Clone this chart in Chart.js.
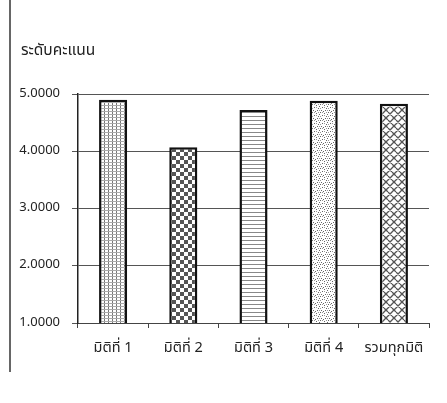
<!DOCTYPE html>
<html>
<head>
<meta charset="utf-8">
<script src="https://cdn.jsdelivr.net/npm/chart.js@4/dist/chart.umd.min.js"></script>
<style>
  html, body { margin: 0; padding: 0; background: #fff; }
  #wrap { position: relative; width: 447px; height: 403px; }
  #frame { position: absolute; left: 9px; top: 0; width: 0; height: 372px; border-left: 2px solid #666; }
  canvas { position: absolute; left: 0; top: 0; }
</style>
</head>
<body>
<div id="wrap">
  <canvas id="c" width="447" height="403"></canvas>
  <div id="frame"></div>
</div>
<script>
const categories = ['มิติที่ 1', 'มิติที่ 2', 'มิติที่ 3', 'มิติที่ 4', 'รวมทุกมิติ'];
const scores = [4.90, 4.07, 4.72, 4.88, 4.83];
const yTicks = [1, 2, 3, 4, 5];
const axisTitle = 'ระดับคะแนน';

const FONT = '"Noto Sans Thai", "Loma", "Garuda", "Tlwg Typo", "Liberation Sans", "DejaVu Sans", sans-serif';

function tile(w, h, draw) {
  const cv = document.createElement('canvas');
  cv.width = w; cv.height = h;
  const g = cv.getContext('2d');
  g.fillStyle = '#fff';
  g.fillRect(0, 0, w, h);
  draw(g);
  return g.createPattern(cv, 'repeat');
}

const ctx = document.getElementById('c').getContext('2d');

// fine grid
const pGrid = tile(4, 3, g => {
  g.fillStyle = '#777';
  g.fillRect(0, 0, 1, 3);
  g.fillStyle = '#aaa';
  g.fillRect(0, 0, 4, 1);
});
// checkerboard
const pCheck = tile(8, 8, g => {
  g.fillStyle = '#555';
  g.fillRect(0, 0, 4, 4);
  g.fillRect(4, 4, 4, 4);
});
// horizontal lines
const pHoriz = tile(4, 4, g => {
  g.fillStyle = '#888';
  g.fillRect(0, 0, 4, 1);
});
// scattered dots
const pDots = tile(8, 8, g => {
  g.fillStyle = '#666';
  [[0,0],[4,1],[2,3],[6,4],[1,6],[5,6],[3,7],[7,2]].forEach(([x, y]) => g.fillRect(x, y, 1, 1));
  g.fillStyle = '#999';
  [[2,0],[6,0],[0,4],[4,3],[7,6]].forEach(([x, y]) => g.fillRect(x, y, 1, 1));
});
// diagonal weave
const pWeave = tile(8, 8, g => {
  g.strokeStyle = '#555';
  g.lineWidth = 1.3;
  g.beginPath();
  g.moveTo(-1, 9); g.lineTo(9, -1);
  g.moveTo(-1, 1); g.lineTo(1, -1);
  g.moveTo(7, 9); g.lineTo(9, 7);
  g.moveTo(0, 4); g.lineTo(4, 8);
  g.moveTo(4, 0); g.lineTo(8, 4);
  g.stroke();
});

const titlePlugin = {
  id: 'axisTitleText',
  afterDraw(chart) {
    const c = chart.ctx;
    c.save();
    c.fillStyle = '#222';
    c.font = '15.5px ' + FONT;
    c.textBaseline = 'alphabetic';
    c.fillText(axisTitle, 21, 55);
    c.restore();
  }
};

new Chart(ctx, {
  type: 'bar',
  data: {
    labels: categories,
    datasets: [{
      data: scores,
      backgroundColor: [pGrid, pCheck, pHoriz, pDots, pWeave],
      borderColor: '#111',
      borderWidth: 2.5,
      borderSkipped: false,
      barPercentage: 0.8,
      categoryPercentage: 0.5
    }]
  },
  options: {
    responsive: false,
    animation: false,
    layout: { padding: { left: 0, top: 94, right: 18, bottom: 30 } },
    plugins: { legend: { display: false }, tooltip: { enabled: false } },
    scales: {
      x: {
        offset: true,
        grid: { offset: true, drawOnChartArea: false, drawTicks: true, tickLength: 5, color: '#444' },
        border: { color: '#444', width: 1 },
        ticks: { color: '#222', font: { family: FONT, size: 14.5 }, padding: 12 },
        afterFit(s) { s.height = 50; }
      },
      y: {
        min: 1, max: 5,
        afterBuildTicks(s) { s.ticks = yTicks.map(v => ({ value: v })); },
        grid: { color: '#555', lineWidth: 1, tickLength: 6 },
        border: { color: '#222', width: 1.5 },
        ticks: { color: '#222', font: { family: FONT, size: 13 }, padding: 12,
                 callback: v => Number(v).toFixed(4) },
        afterFit(s) { s.width = 78; }
      }
    }
  },
  plugins: [titlePlugin]
});
</script>
</body>
</html>
